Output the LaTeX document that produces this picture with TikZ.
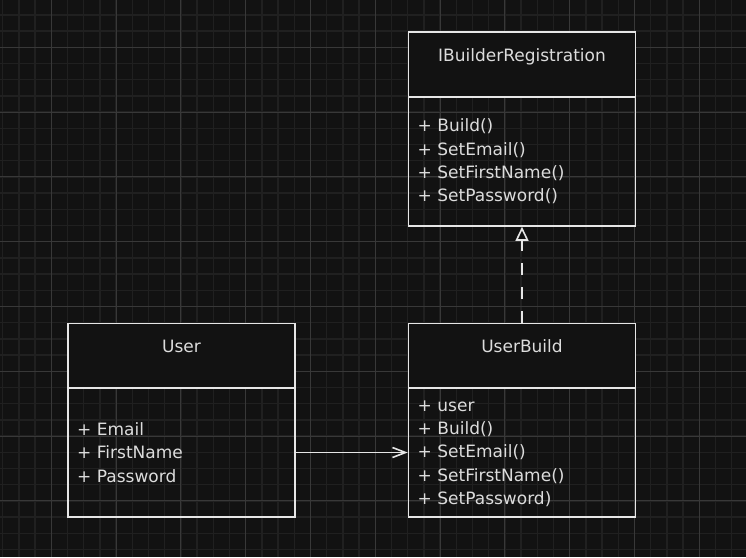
\documentclass[tikz,border=0pt]{standalone}
\usepackage{fontspec}
\setmainfont{DejaVu Sans}
\usetikzlibrary{arrows.meta}
\definecolor{canvas}{HTML}{121212}
\definecolor{minorgrid}{HTML}{202020}
\definecolor{majorgrid}{HTML}{383838}
\definecolor{ink}{HTML}{E6E6E6}
\definecolor{inktext}{HTML}{DCDCDC}

\begin{document}
\begin{tikzpicture}[x=0.75pt, y=-0.75pt,
		classhead/.style = {draw=ink, fill=canvas, line width=1.2pt, minimum width=170.25pt, minimum height=48.75pt, inner sep=0pt, text=inktext, font=\fontsize{12.75}{17.5}\selectfont, text height=9.75pt, text depth=15pt},
		classbody/.style = {draw=ink, line width=1.2pt, text width=156.75pt, inner xsep=6.75pt, inner ysep=0pt, minimum height=96.75pt, align=left, text=inktext, font=\fontsize{12.75}{17.5}\selectfont},
		assoc/.style = {draw=ink, line width=1.2pt, -{Straight Barb[length=9.75pt, width=7.5pt]}},
		realize/.style = {draw=ink, line width=1.2pt, dash pattern=on 9pt off 9pt, -{Triangle[open, length=10.5pt, width=9.75pt, fill=canvas]}}]
		\useasboundingbox (0,0) rectangle (746,557);
		\clip (0,0) rectangle (746,557);
		\fill[canvas] (0,0) rectangle (746,557);
		\foreach \i in {0,...,46} \draw[minorgrid, line width=1pt] (2.7+16.2*\i, 0) -- (2.7+16.2*\i, 557);
		\foreach \i in {0,...,35} \draw[minorgrid, line width=1pt] (0, -1.3+16.2*\i) -- (746, -1.3+16.2*\i);
		\foreach \i in {1,...,11} \draw[majorgrid, line width=0.75pt] (-13.5+64.8*\i, 0) -- (-13.5+64.8*\i, 557);
		\foreach \i in {1,...,9} \draw[majorgrid, line width=0.75pt] (0, -17.5+64.8*\i) -- (746, -17.5+64.8*\i);

		\node[classhead] (ibr) at (522,64.5) {IBuilderRegistration};
		\node[classbody] (ibrbody) at (522,161.5) {+ Build()\\+ SetEmail()\\+ SetFirstName()\\+ SetPassword()};
		\node[classhead] (user) at (181.5,356) {User};
		\node[classbody] (userbody) at (181.5,452.5) {+ Email\\+ FirstName\\+ Password};
		\node[classhead] (ub) at (522,356) {UserBuild};
		\node[classbody] (ubbody) at (522,452.5) {+ user\vphantom{()}\\+ Build()\\+ SetEmail()\\+ SetFirstName()\\+ SetPassword)};

		\draw[assoc] (userbody) -- (ubbody);
		\draw[realize] (ub) -- (ibrbody);
	\end{tikzpicture}
\end{document}
